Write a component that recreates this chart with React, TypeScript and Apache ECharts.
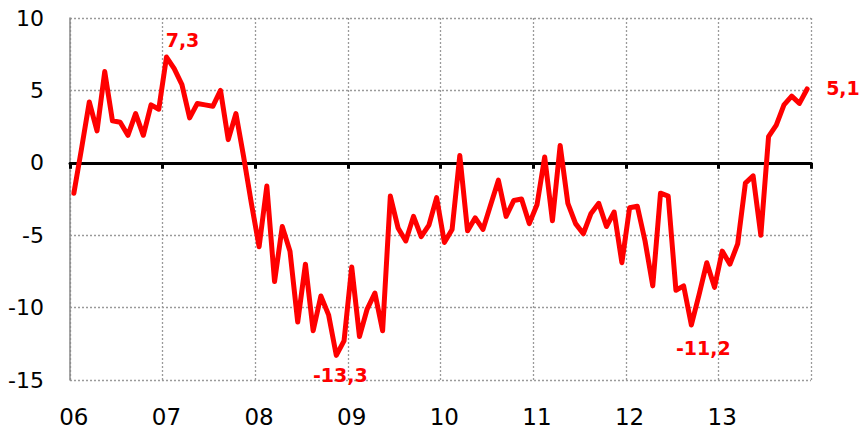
import React, { useEffect, useRef } from "react";
import * as echarts from "echarts";

const years = ["06", "07", "08", "09", "10", "11", "12", "13"];
const months = ["01", "02", "03", "04", "05", "06", "07", "08", "09", "10", "11", "12"];
const categories = years.flatMap((y) => months.map((m) => `${y}-${m}`));

const values2006 = [-2.1, 1.0, 4.2, 2.2, 6.3, 2.9, 2.8, 1.9, 3.4, 1.9, 4.0, 3.7];
const values2007 = [7.3, 6.5, 5.4, 3.1, 4.1, 4.0, 3.9, 5.0, 1.6, 3.4, 0.4, -2.8];
const values2008 = [-5.8, -1.6, -8.2, -4.4, -6.1, -11.0, -7.0, -11.6, -9.2, -10.5, -13.3, -12.3];
const values2009 = [-7.2, -12.0, -10.1, -9.0, -11.6, -2.3, -4.5, -5.4, -3.7, -5.1, -4.3, -2.4];
const values2010 = [-5.5, -4.6, 0.5, -4.7, -3.8, -4.6, -2.9, -1.2, -3.7, -2.6, -2.5, -4.2];
const values2011 = [-2.9, 0.4, -4.0, 1.2, -2.8, -4.2, -4.9, -3.5, -2.8, -4.4, -3.4, -6.9];
const values2012 = [-3.1, -3.0, -5.4, -8.5, -2.1, -2.3, -8.8, -8.5, -11.2, -9.1, -6.9, -8.6];
const values2013 = [-6.1, -7.0, -5.6, -1.4, -0.9, -5.0, 1.8, 2.6, 4.0, 4.6, 4.1, 5.1];

const values = [
  ...values2006, ...values2007, ...values2008, ...values2009,
  ...values2010, ...values2011, ...values2012, ...values2013,
];

const yTicks = { min: -15, max: 10, interval: 5 };
const monthsPerYear = months.length;

// indices of annotated points and where their labels sit
const annotated: Record<number, { position: any; offset: number[] }> = {
  12: { position: "top", offset: [16, -3] },
  34: { position: "bottom", offset: [4, 5] },
  80: { position: "bottom", offset: [12, 9] },
  95: { position: [19, -10], offset: [0, 0] },
};

const yearStart = (index: number) => index % monthsPerYear === 0;

export default function App() {
  const ref = useRef<HTMLDivElement>(null);
  useEffect(() => {
    document.body.style.margin = "0";
    const chart = echarts.init(ref.current!, null, { renderer: "svg" });
    const data = values.map((v, i) => {
      const a = annotated[i];
      const point = [i + 0.5, v];
      if (!a) return point;
      return {
        value: point,
        label: {
          show: true,
          position: a.position,
          offset: a.offset,
          formatter: (p: any) => String(p.value[1]).replace(".", ","),
          color: "#ff0000",
          fontWeight: "bold",
          fontSize: 19,
          fontFamily: "DejaVu Sans",
        },
      };
    });
    const xMax = categories.length;
    chart.setOption({
      animation: false,
      backgroundColor: "#ffffff",
      grid: { left: 70, right: 49, top: 18, bottom: 49, containLabel: false },
      xAxis: [
        {
          // grid lines at year boundaries
          type: "value",
          min: 0,
          max: xMax,
          interval: monthsPerYear,
          position: "bottom",
          axisLine: { show: false, onZero: false },
          axisTick: { show: false },
          axisLabel: { show: false },
          splitLine: {
            show: true,
            lineStyle: { type: [2, 2], color: "#9a9a9a", width: 1.3 },
          },
        },
        {
          // zero line with year ticks
          type: "value",
          min: 0,
          max: xMax,
          interval: monthsPerYear,
          position: "bottom",
          axisLine: { show: true, onZero: true, lineStyle: { color: "#000", width: 3 } },
          axisTick: { show: true, length: 6, lineStyle: { color: "#000", width: 3 } },
          axisLabel: { show: false },
          splitLine: { show: false },
        },
        {
          // year labels centred on January
          type: "category",
          data: categories,
          boundaryGap: true,
          position: "bottom",
          axisLine: { show: false, onZero: false },
          axisTick: { show: false },
          splitLine: { show: false },
          axisLabel: {
            interval: yearStart,
            margin: 25,
            formatter: (v: string) => v.split("-")[0],
            fontSize: 23,
            fontFamily: "DejaVu Sans",
            color: "#000",
          },
        },
      ],
      yAxis: {
        type: "value",
        min: yTicks.min,
        max: yTicks.max,
        interval: yTicks.interval,
        axisLine: { show: true, onZero: false, lineStyle: { color: "#888", width: 1.5 } },
        axisTick: { show: false },
        axisLabel: {
          margin: 26,
          fontSize: 22,
          fontFamily: "DejaVu Sans",
          color: "#000",
        },
        splitLine: {
          show: true,
          lineStyle: { type: [2, 2], color: "#9a9a9a", width: 1.3 },
        },
      },
      series: [
        {
          type: "line",
          xAxisIndex: 0,
          data,
          showSymbol: true,
          showAllSymbol: true,
          symbol: "circle",
          symbolSize: 0,
          lineStyle: { color: "#ff0000", width: 5, join: "round", cap: "round" },
          itemStyle: { color: "#ff0000" },
          z: 5,
        },
      ],
    });
    return () => chart.dispose();
  }, []);
  return <div ref={ref} style={{ width: 860, height: 429 }} />;
}
